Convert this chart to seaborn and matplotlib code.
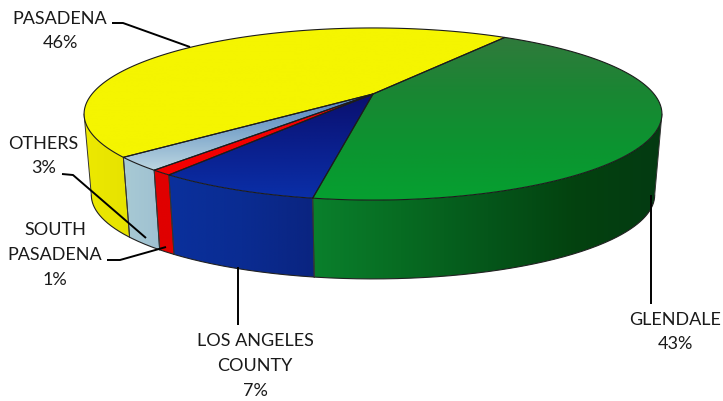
import matplotlib.pyplot as plt
import numpy as np
import seaborn as sns
from matplotlib.patches import Polygon

# clockwise from the back of the pie
names = ["GLENDALE", "LOS ANGELES\nCOUNTY", "SOUTH\nPASADENA", "OTHERS", "PASADENA"]
shares = [43.2, 7.4, 1.0, 2.51, 45.89]

top_colors = [
    ["#307A3C", "#1A8633", "#0C9430", "#06A030"],
    ["#0A0F6E", "#0A1F8C", "#0A2FA8"],
    ["#F40000", "#F40000"],
    ["#4F80C0", "#7FA8CC", "#BCD6E0"],
    ["#F5F500", "#F5F500"],
]
side_colors = [
    ["#0A802C", "#076C22", "#05561A", "#03420F", "#043A12"],
    ["#0A309C", "#0A2C92", "#0A2480"],
    ["#E00000", "#E00000"],
    ["#A8CAD4", "#9FC1D2"],
    ["#EDE900", "#E6E200"],
]

# label centre and leader line of each slice, in picture pixels
label_pos = [(675, 332), (255, 366), (55, 255), (43.5, 156), (60, 31)]
leaders = [
    [(651, 195), (651, 304)],
    [(238, 267), (238, 325)],
    [(107, 260), (120, 260), (166, 247)],
    [(62, 174), (73, 175), (146, 238)],
    [(112, 23), (123, 23), (190, 47)],
]

start_angle = 34
cx, apex_y = 373, 94
r0, b, k = 281, 81.4, 0.2325
depth_scale = 0.975
top_mid, low_mid = 114, 195


def project(angle, level="top"):
    # perspective view of the rim, angle runs clockwise from the back
    a = np.radians(angle)
    u, v = np.sin(a), -np.cos(a)
    x = cx + r0 * u / (1 - k * v)
    y = apex_y + b * v / (1 - k * v)
    if level == "low":
        x = cx + (x - cx) * depth_scale
        y = low_mid + (y - top_mid) * depth_scale
    return np.column_stack([x, y])


def gradient_fill(ax, pts, colors, vertical, zorder):
    cmap = sns.blend_palette(colors, as_cmap=True)
    grad = np.linspace(0, 1, 256)
    grad = grad.reshape(-1, 1) if vertical else grad.reshape(1, -1)
    x0, x1 = pts[:, 0].min(), pts[:, 0].max()
    y0, y1 = pts[:, 1].min(), pts[:, 1].max()
    im = ax.imshow(grad, cmap=cmap, aspect="auto", extent=(x0, x1, y1, y0), origin="upper", zorder=zorder)
    return im


def draw_side(ax, a0, a1, colors):
    # only the part of the wall between the two silhouette angles shows
    right = np.degrees(np.arccos(-k))
    left = 360 - right
    a0, a1 = max(a0, right), min(a1, left)
    if a1 <= a0:
        return
    angles = np.linspace(a0, a1, 200)
    top = project(angles)
    low = project(angles, "low")
    pts = np.vstack([top, low[::-1]])
    im = gradient_fill(ax, pts, colors, False, 2)
    outline = Polygon(pts, closed=True, facecolor="none", edgecolor="none", zorder=2)
    ax.add_patch(outline)
    im.set_clip_path(outline)
    ax.plot(low[:, 0], low[:, 1], color="#222222", lw=0.8, zorder=3)
    # straight edge of the wall on its right and left ends
    ax.plot([top[0, 0], low[0, 0]], [top[0, 1], low[0, 1]], color="#333333", lw=0.7, zorder=3)
    ax.plot([top[-1, 0], low[-1, 0]], [top[-1, 1], low[-1, 1]], color="#333333", lw=0.7, zorder=3)


def draw_top(ax, a0, a1, colors):
    arc = project(np.linspace(a0, a1, 300))
    pts = np.vstack([[cx, apex_y], arc])
    im = gradient_fill(ax, pts, colors, True, 4)
    outline = Polygon(pts, closed=True, facecolor="none", edgecolor="#1c1c1c", lw=0.8, zorder=5)
    ax.add_patch(outline)
    im.set_clip_path(outline)


def get_plot():
    sns.set_theme(style="white")
    plt.rcParams["font.family"] = ["Lato", "DejaVu Sans"]

    fig = plt.figure(figsize=(7.23, 4.01), dpi=100)
    ax = fig.add_axes([0, 0, 1, 1])

    edges = start_angle + np.concatenate([[0], np.cumsum(shares)]) * 3.6

    for i in range(len(shares)):
        draw_side(ax, edges[i], edges[i + 1], side_colors[i])

    for i in range(len(shares)):
        draw_top(ax, edges[i], edges[i + 1], top_colors[i])

    for name, share, pos, line in zip(names, shares, label_pos, leaders):
        ax.text(pos[0], pos[1], f"{name}\n{share:.0f}%", ha="center", va="center", fontsize=13,
                color="#1a1a1a", linespacing=1.68, zorder=7)
        xs, ys = zip(*line)
        ax.plot(xs, ys, color="black", lw=1.4, zorder=6, solid_capstyle="butt")

    ax.set_xlim(0, 723)
    ax.set_ylim(401, 0)
    ax.axis("off")
    fig.savefig("out.png", dpi=100, facecolor="white")


if __name__ == "__main__":
    get_plot()
